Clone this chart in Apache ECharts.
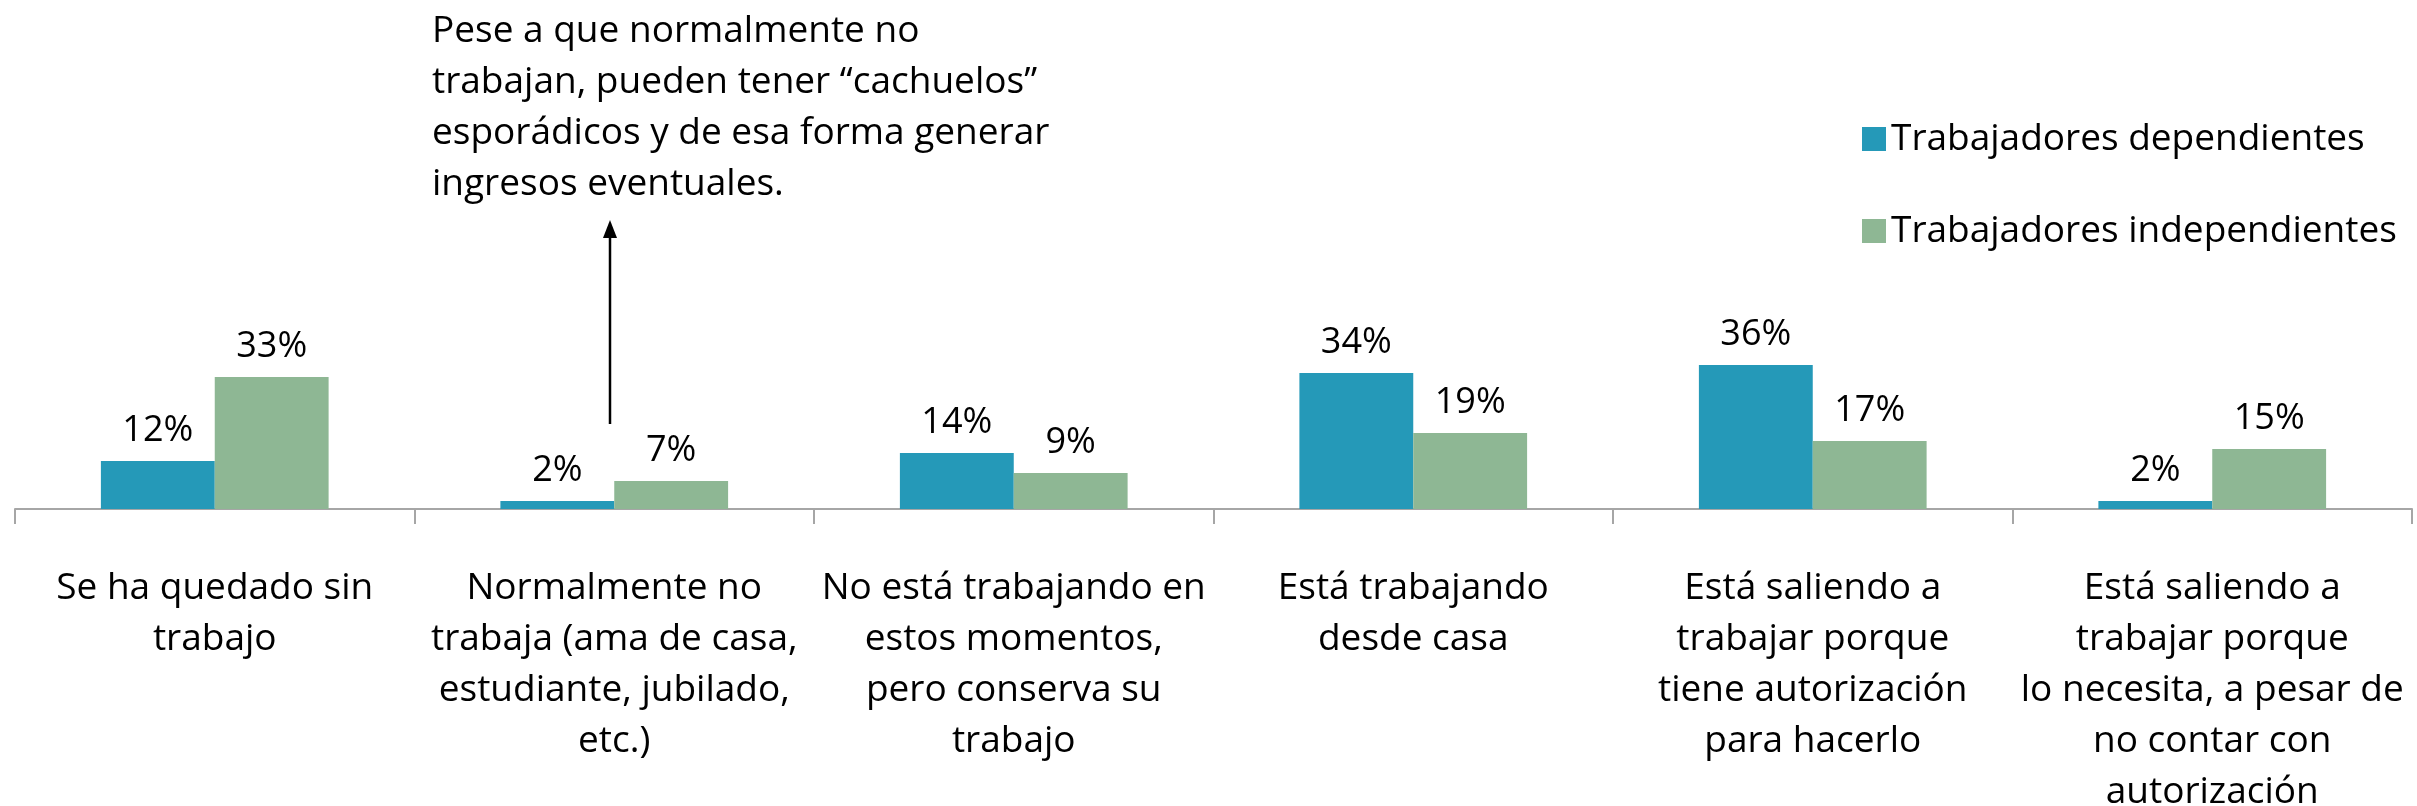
<!DOCTYPE html>
<html>
<head>
<meta charset="utf-8">
<script src="https://cdn.jsdelivr.net/npm/echarts@6/dist/echarts.min.js"></script>
<style>
  html, body { margin: 0; padding: 0; background: #fff; }
  #chart { width: 2417px; height: 806px; }
</style>
</head>
<body>
<div id="chart"></div>
<script>
var categories = [
    'Se ha quedado sin\ntrabajo',
    'Normalmente no\ntrabaja (ama de casa,\nestudiante, jubilado,\netc.)',
    'No está trabajando en\nestos momentos,\npero conserva su\ntrabajo',
    'Está trabajando\ndesde casa',
    'Está saliendo a\ntrabajar porque\ntiene autorización\npara hacerlo',
    'Está saliendo a\ntrabajar porque\nlo necesita, a pesar de\nno contar con\nautorización'
];
var dependientes = [12, 2, 14, 34, 36, 2];
var independientes = [33, 7, 9, 19, 17, 15];
var seriesNames = ['Trabajadores dependientes', 'Trabajadores independientes'];
var nota = 'Pese a que normalmente no\ntrabajan, pueden tener “cachuelos”\nesporádicos y de esa forma generar\ningresos eventuales.';

var fuente = "'Open Sans', sans-serif";

var chart = echarts.init(document.getElementById('chart'));
var option = {
    animation : false,
    textStyle : {
        fontFamily : fuente
    },
    grid : {
        left : 15,
        right : 5,
        top : 349,
        bottom : 297,
        containLabel : false,
        outerBoundsMode : 'none'
    },
    legend : {
        orient : 'vertical',
        left : 1857,
        top : 114,
        itemWidth : 24,
        itemHeight : 24,
        itemGap : 52,
        icon : 'rect',
        textStyle : {
            fontFamily : fuente,
            fontSize : 37,
            color : '#000',
            lineHeight : 40
        },
        data : seriesNames
    },
    xAxis : {
        type : 'category',
        data : categories,
        axisLine : {
            lineStyle : { color : '#a6a6a6', width : 2 }
        },
        axisTick : {
            show : true,
            length : 15,
            lineStyle : { color : '#a6a6a6', width : 2 }
        },
        axisLabel : {
            interval : 0,
            margin : 54,
            fontFamily : fuente,
            fontSize : 37,
            lineHeight : 51,
            color : '#000',
            verticalAlign : 'top'
        }
    },
    yAxis : {
        type : 'value',
        min : 0,
        max : 40,
        show : false,
        splitLine : { show : false }
    },
    series : [
        {
            name : seriesNames[0],
            type : 'bar',
            barGap : '0%',
            barCategoryGap : '43%',
            itemStyle : { color : '#2599b8' },
            label : {
                show : true,
                position : 'top',
                distance : 12,
                formatter : '{c}%',
                fontFamily : fuente,
                fontSize : 36,
                color : '#000'
            },
            data : dependientes
        },
        {
            name : seriesNames[1],
            type : 'bar',
            itemStyle : { color : '#8eb794' },
            label : {
                show : true,
                position : 'top',
                distance : 12,
                formatter : '{c}%',
                fontFamily : fuente,
                fontSize : 36,
                color : '#000'
            },
            data : independientes
        }
    ],
    graphic : [
        {
            type : 'text',
            left : 432,
            top : 6,
            style : {
                text : nota,
                fontFamily : fuente,
                fontSize : 37,
                lineHeight : 51,
                fill : '#000'
            }
        },
        {
            type : 'line',
            shape : { x1 : 610, y1 : 424, x2 : 610, y2 : 236 },
            style : { stroke : '#000', lineWidth : 2.5 }
        },
        {
            type : 'polygon',
            shape : { points : [[610, 220], [603, 238], [617, 238]] },
            style : { fill : '#000' }
        }
    ]
};
chart.setOption(option);
</script>
</body>
</html>
